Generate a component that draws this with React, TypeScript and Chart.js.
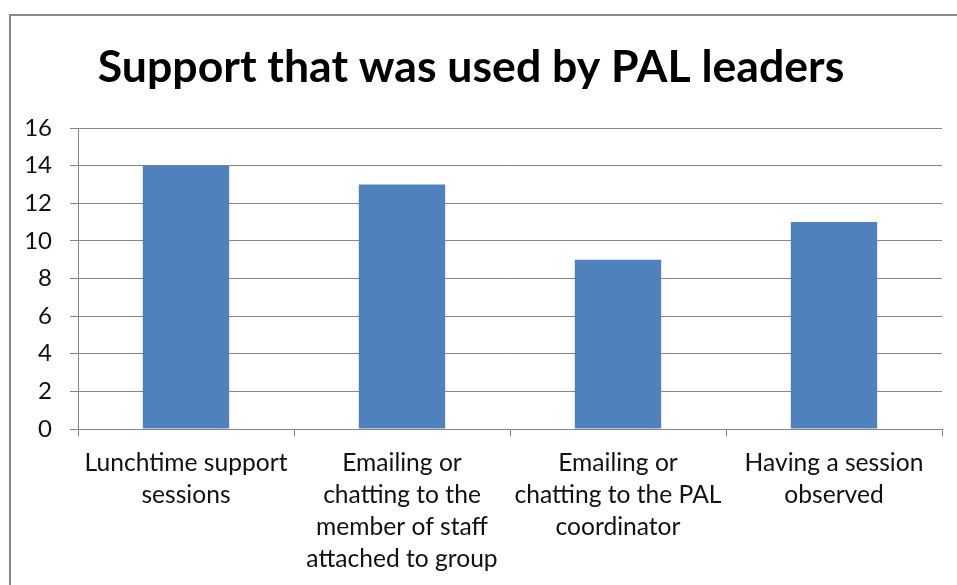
import React, { useEffect, useRef } from "react";
import { Chart, registerables } from "chart.js";

Chart.register(...registerables);

const categories: string[][] = [
  ["Lunchtime support", "sessions"],
  ["Emailing or", "chatting to the", "member of staff", "attached to group"],
  ["Emailing or", "chatting to the PAL", "coordinator"],
  ["Having a session", "observed"],
];
const values: number[] = [14, 13, 9, 11];
const titleText = "Support that was used by PAL leaders";
const yMin = 0;
const yMax = 16;
const yStep = 2;

const FONT = "Lato, 'Open Sans', 'Liberation Sans', sans-serif";

const frame = {
  id: "frame",
  beforeDraw(chart: any) {
    const ctx = chart.ctx;
    ctx.save();
    ctx.fillStyle = "#ffffff";
    ctx.fillRect(0, 0, chart.width, chart.height);
    ctx.strokeStyle = "#898989";
    ctx.lineWidth = 2;
    ctx.strokeRect(10, 15, 3000, 3000);
    ctx.restore();
  },
};

export default function App() {
  const ref = useRef<HTMLCanvasElement | null>(null);
  useEffect(() => {
    if (!ref.current) return;
    const chart = new Chart(ref.current, {
      type: "bar",
      data: {
        labels: categories,
        datasets: [
          {
            data: values,
            backgroundColor: "#4F81BD",
            borderWidth: 0,
            barPercentage: 0.4,
            categoryPercentage: 1,
          },
        ],
      },
      options: {
        responsive: false,
        animation: false,
        devicePixelRatio: 1,
        layout: { padding: { left: 0, right: 15, top: 0, bottom: 0 } },
        plugins: {
          legend: { display: false },
          tooltip: { enabled: false },
          title: {
            display: true,
            text: titleText,
            color: "#000000",
            font: { family: FONT, size: 44.6, weight: "bold", lineHeight: "54px" },
            padding: { top: 41, bottom: 33 },
          },
        },
        scales: {
          x: {
            offset: true,
            grid: {
              offset: true,
              drawOnChartArea: false,
              drawTicks: true,
              tickLength: 7,
              color: "#868686",
              lineWidth: 1,
            },
            border: { display: true, color: "#868686", width: 1 },
            ticks: {
              color: "#111111",
              padding: 11,
              maxRotation: 0,
              autoSkip: false,
              font: { family: FONT, size: 24.6, lineHeight: "32px" },
            },
            afterFit(scale: any) {
              scale.height = 156;
            },
          },
          y: {
            min: yMin,
            max: yMax,
            grid: {
              color: "#868686",
              lineWidth: 1,
              drawTicks: true,
              tickLength: 8,
            },
            border: { display: true, color: "#868686", width: 1 },
            ticks: {
              stepSize: yStep,
              color: "#111111",
              padding: 18,
              font: { family: FONT, size: 24 },
            },
            afterFit(scale: any) {
              scale.width = 78;
            },
          },
        },
      },
      plugins: [frame],
    });
    return () => chart.destroy();
  }, []);
  return (
    <div style={{ position: "absolute", left: 0, top: 0, width: 957, height: 585 }}>
      <canvas ref={ref} width={957} height={585} />
    </div>
  );
}
